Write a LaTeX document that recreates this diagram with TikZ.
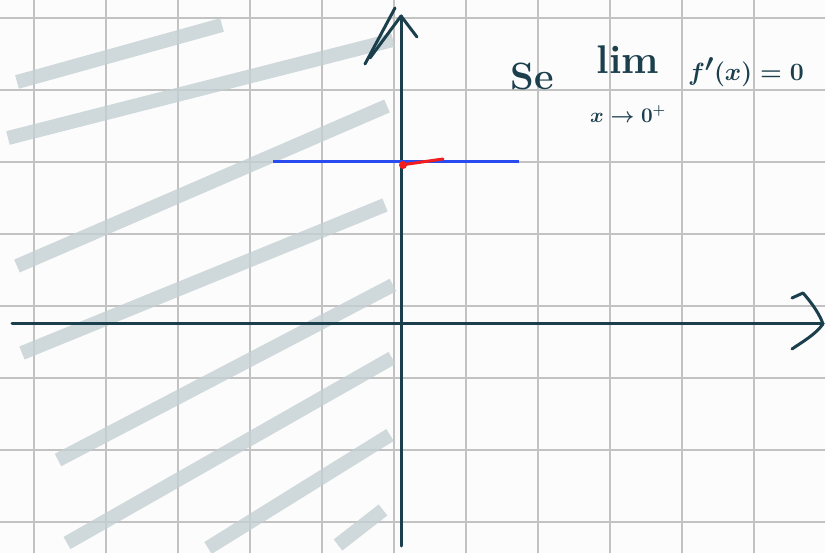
\documentclass[tikz,border=0pt]{standalone}
\usepackage{xcolor}
\definecolor{ink}{HTML}{1B3F4C}
\definecolor{gridc}{HTML}{C2C2C2}
\definecolor{hatch}{HTML}{C4CFD2}
\definecolor{blueline}{HTML}{2A4BF0}
\definecolor{redline}{HTML}{F01E1E}
\definecolor{paper}{HTML}{FCFCFC}
\tikzset{
  gridline/.style={draw=gridc, line width=2pt},
  hatchstroke/.style={draw=hatch, line width=14pt, opacity=0.8, line cap=butt},
  axisline/.style={draw=ink, line width=3pt, line cap=round, line join=round},
  inktext/.style={text=ink, inner sep=0pt}
}
\begin{document}
\begin{tikzpicture}[x=1pt,y=-1pt]
\useasboundingbox (0,0) rectangle (825,553);
\fill[paper] (0,0) rectangle (825,553);
% grid
\foreach \x in {34,106,...,754} \draw[gridline] (\x,0) -- (\x,553);
\foreach \y in {18,90,...,522} \draw[gridline] (0,\y) -- (825,\y);
% hatching
\draw[hatchstroke] (17,82) -- (222,25);
\draw[hatchstroke] (8,138) -- (393,40);
\draw[hatchstroke] (17,266) -- (387,106);
\draw[hatchstroke] (22,353) -- (385,205);
\draw[hatchstroke] (58,460) -- (393,285);
\draw[hatchstroke] (67,543) -- (392,358);
\draw[hatchstroke] (208,548) -- (390,435);
\draw[hatchstroke] (338,545) -- (383,510);
% axes
\coordinate (yb) at (401,546);
\coordinate (yt) at (401,16);
\coordinate (xl) at (12,324);
\coordinate (xr) at (823,324);
\draw[axisline] (yb) -- (yt);
\draw[axisline] (yt) -- (417,37);
\draw[axisline] (365,64) -- (395,8);
\draw[axisline] (370,58) -- (yt);
\draw[axisline] (xl) -- (xr);
\draw[axisline] (792,298) -- (803,293) .. controls (812,303) and (820,315) .. (xr);
\draw[axisline] (xr) .. controls (815,335) and (802,342) .. (792,349);
% horizontal line and red piece
\coordinate (bl) at (273,162);
\coordinate (br) at (519,162);
\draw[blueline, line width=3pt] (bl) -- (br);
\coordinate (ra) at (401,165);
\coordinate (rb) at (443,159);
\draw[redline, line width=3pt, line cap=round] (ra) -- (rb);
\fill[redline] (403,165) circle (4);
% text
\node[inktext, font=\fontsize{38}{38}\selectfont\bfseries] (se) at (532,76) {Se};
\node[inktext, font=\fontsize{40}{40}\selectfont\bfseries] (lim) at (628,60) {lim};
\node[inktext, font=\fontsize{22}{22}\selectfont\boldmath] (sub) at (628,114) {$x\to0^{+}$};
\node[inktext, font=\fontsize{36}{36}\selectfont\boldmath] (eq) at (746,72) {$f'(x)=0$};
\end{tikzpicture}
\end{document}
